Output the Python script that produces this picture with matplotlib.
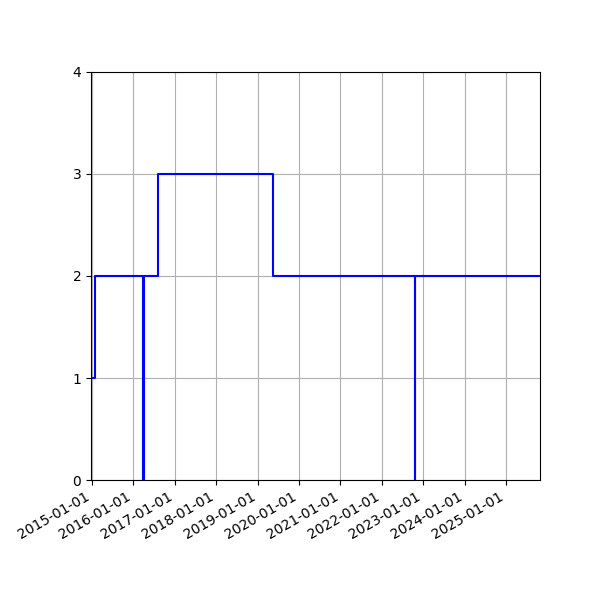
import matplotlib
matplotlib.use("Agg")
import matplotlib.pyplot as plt
import matplotlib.dates as mdates
import numpy as np

dates = ['2014-12-22', '2015-01-25', '2016-03-24', '2016-04-01', '2016-08-03',
         '2019-05-12', '2022-10-17', '2022-10-18', '2025-10-28']
values = [1, 2, 0, 2, 3, 2, 0, 2, 2]
year_ticks = [f'{y}-01-01' for y in range(2015, 2026)]

d = np.array(dates, dtype='datetime64[D]')

fig = plt.figure(figsize=(6, 6), dpi=100)
ax = fig.add_axes([91/600, 0.2, (540-91)/600, 0.68])
ax.step(d, values, where='post', color='b', linewidth=1.5)
ax.set_xlim(d[0], d[-1])
ax.set_ylim(0, 4)
ax.set_yticks([0, 1, 2, 3, 4])
ax.set_xticks(np.array(year_ticks, dtype='datetime64[D]'))
ax.xaxis.set_major_formatter(mdates.DateFormatter('%Y-%m-%d'))
ax.grid(True)
for lbl in ax.get_xticklabels():
    lbl.set_rotation(30)
    lbl.set_ha('right')
fig.savefig('out.png', dpi=100)
